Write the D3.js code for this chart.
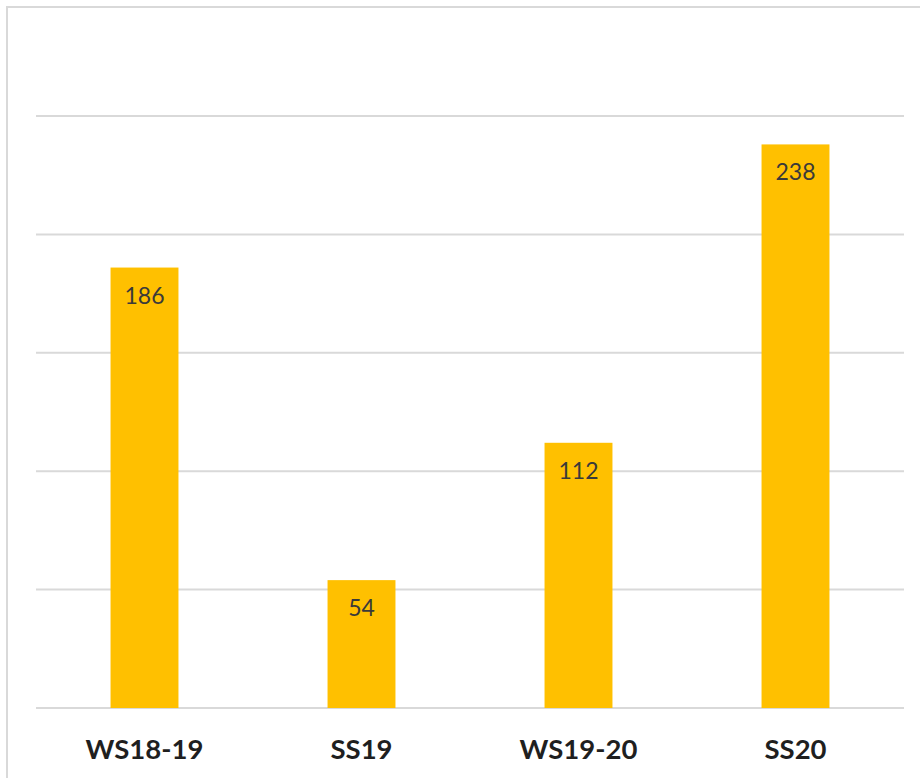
<!DOCTYPE html>
<html>
<head>
<meta charset="utf-8">
<script src="https://cdn.jsdelivr.net/npm/d3@7/dist/d3.min.js"></script>
<style>
  html, body { margin: 0; padding: 0; background: #fff; }
  svg { display: block; }
</style>
</head>
<body>
<svg id="chart" width="920" height="778"></svg>
<script>
// Semester enrolment counts
const categories = ["WS18-19", "SS19", "WS19-20", "SS20"];
const values = [186, 54, 112, 238];
const gridTicks = [0, 50, 100, 150, 200, 250];

const svg = d3.select("#chart");
const W = 920, H = 778;

// Outer chart frame
svg.append("rect")
  .attr("x", 7).attr("y", 7)
  .attr("width", W + 10).attr("height", H + 10)
  .attr("fill", "#fff")
  .attr("stroke", "#d9d9d9")
  .attr("stroke-width", 2);

const plot = { left: 36, right: 904, top: 116, bottom: 708 };

const x = d3.scaleBand()
  .domain(categories)
  .range([plot.left, plot.right])
  .paddingInner(0.687)
  .paddingOuter(0.3435);

const y = d3.scaleLinear()
  .domain([0, 250])
  .range([plot.bottom, plot.top]);

// Horizontal gridlines
svg.append("g")
  .selectAll("line")
  .data(gridTicks)
  .join("line")
  .attr("x1", plot.left)
  .attr("x2", plot.right)
  .attr("y1", d => y(d))
  .attr("y2", d => y(d))
  .attr("stroke", "#d9d9d9")
  .attr("stroke-width", 2);

// Bars
svg.append("g")
  .selectAll("rect")
  .data(values)
  .join("rect")
  .attr("x", (d, i) => x(categories[i]))
  .attr("y", d => y(d))
  .attr("width", x.bandwidth())
  .attr("height", d => y(0) - y(d))
  .attr("fill", "#ffc000");

// Value labels inside the top of each bar
svg.append("g")
  .selectAll("text")
  .data(values)
  .join("text")
  .attr("x", (d, i) => x(categories[i]) + x.bandwidth() / 2)
  .attr("y", d => y(d) + 36)
  .attr("text-anchor", "middle")
  .attr("font-family", "Lato, 'Open Sans', sans-serif")
  .attr("font-size", 23)
  .attr("fill", "#3a3a3a")
  .text(d => d);

// Category axis labels
const xAxis = d3.axisBottom(x).tickSize(0).tickPadding(0);
const gx = svg.append("g")
  .attr("transform", `translate(0,${plot.bottom})`)
  .call(xAxis);
gx.select(".domain").remove();
gx.selectAll("text")
  .attr("y", 51)
  .attr("dy", null)
  .attr("font-family", "Lato, 'Open Sans', sans-serif")
  .attr("font-weight", "bold")
  .attr("font-size", 27.5)
  .attr("fill", "#1f1f1f");
</script>
</body>
</html>
